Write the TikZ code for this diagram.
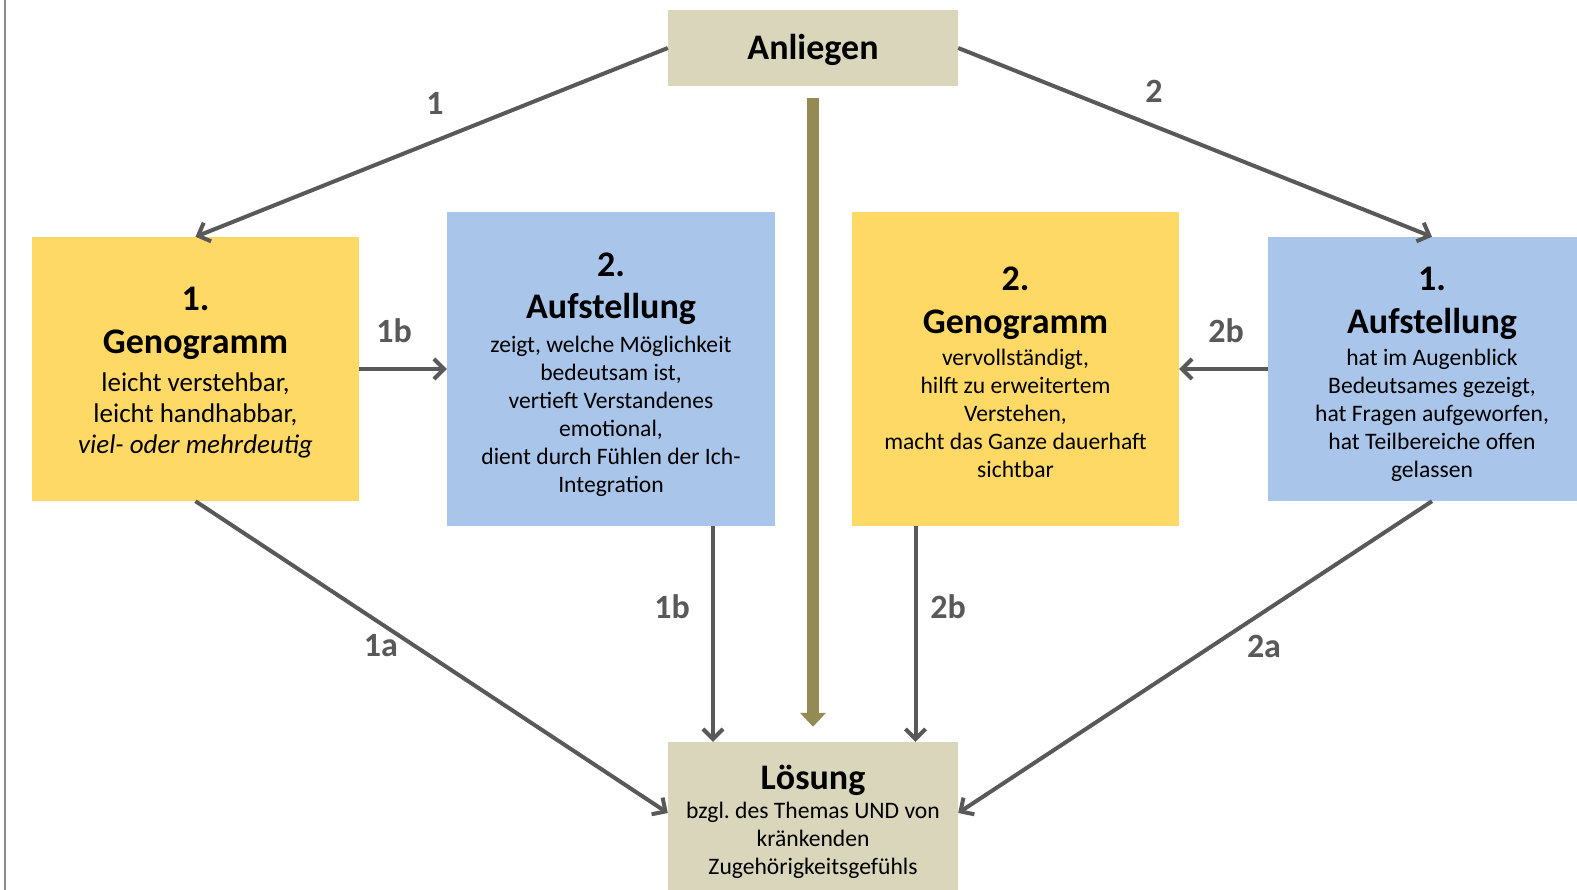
\documentclass[tikz,border=0pt]{standalone}
\usepackage{fontspec}
\setmainfont{Carlito}
\usetikzlibrary{arrows.meta}
\definecolor{boxyellow}{HTML}{FFD966}
\definecolor{boxblue}{HTML}{A9C6EA}
\definecolor{boxtan}{HTML}{DAD6BB}
\definecolor{olivearrow}{HTML}{948A54}
\definecolor{arrowgray}{HTML}{595959}
\definecolor{framegray}{HTML}{8C8C8C}
\newcommand{\ttlfont}{\fontsize{36}{42}\selectfont\bfseries}
\frenchspacing
\begin{document}
\begin{tikzpicture}[x=1pt,y=-1pt,
  box/.style={rectangle, inner sep=0pt},
  boxtext/.style={inner sep=0pt, align=center, text=black, font=\fontsize{23.6}{28}\selectfont},
  yellowbox/.style={box, fill=boxyellow},
  bluebox/.style={box, fill=boxblue},
  tanbox/.style={box, fill=boxtan},
  conn/.style={draw=arrowgray, line width=4pt, -{Straight Barb[length=10pt,width=20pt]}},
  bigarrow/.style={draw=olivearrow, line width=12pt, -{Triangle[length=14pt,width=25pt]}},
  lbl/.style={inner sep=0pt, text=arrowgray, font=\fontsize{34}{40}\selectfont\bfseries},
]
\useasboundingbox (0,0) rectangle (1577,890);
\clip (0,0) rectangle (1577,890);
\fill[white] (0,0) rectangle (1577,890);
\draw[framegray, line width=2pt] (5,0) -- (5,890);

% boxes
\node[tanbox, minimum width=290pt, minimum height=76pt] (anl) at (813,48) {};
\node[yellowbox, minimum width=327pt, minimum height=264pt] (g1) at (195.5,369) {};
\node[bluebox, minimum width=328pt, minimum height=314pt] (a2) at (611,369) {};
\node[yellowbox, minimum width=327pt, minimum height=314pt] (g2) at (1015.5,369) {};
\node[bluebox, minimum width=328pt, minimum height=264pt] (a1) at (1432,369) {};
\node[tanbox, minimum width=290pt, minimum height=160pt] (loe) at (813,822) {};

% box texts
\node[boxtext] (anlt) at ([yshift=-2pt]anl.center) {{\ttlfont Anliegen}};
\node[boxtext, font=\fontsize{27}{31}\selectfont] (g1t) at ([yshift=-4pt]g1.center)
  {{\ttlfont 1.}\\[12pt]{\ttlfont Genogramm}\\[7pt]leicht verstehbar,\\leicht handhabbar,\\\textit{viel- oder mehrdeutig}};
\node[boxtext] (a2t) at ([yshift=-5.5pt]a2.center)
  {{\ttlfont 2.}\\[14pt]{\ttlfont Aufstellung}\\[5.5pt]zeigt, welche Möglichkeit\\bedeutsam ist,\\vertieft Verstandenes\\emotional,\\dient durch Fühlen der Ich-\\Integration};
\node[boxtext] (g2t) at ([yshift=-3pt]g2.center)
  {{\ttlfont 2.}\\[15pt]{\ttlfont Genogramm}\\[4pt]vervollständigt,\\hilft zu erweitertem\\Verstehen,\\macht das Ganze dauerhaft\\sichtbar};
\node[boxtext] (a1t) at ([yshift=-5.5pt]a1.center)
  {{\ttlfont 1.}\\[15pt]{\ttlfont Aufstellung}\\[4.5pt]hat im Augenblick\\Bedeutsames gezeigt,\\hat Fragen aufgeworfen,\\hat Teilbereiche offen\\gelassen};
\node[boxtext] (loet) at ([yshift=0.5pt]loe.center)
  {{\ttlfont Lösung}\\[1pt]bzgl. des Themas UND von\\kränkenden\\Zugehörigkeitsgefühls};

% connectors
\draw[bigarrow, shorten <=12pt, shorten >=15pt] (anl.south) -- (loe.north);
\draw[conn] (anl.west) -- (g1.north);
\draw[conn] (anl.east) -- (a1.north);
\draw[conn] (g1.east) -- (a2.west);
\draw[conn] (a1.west) -- (g2.east);
\draw[conn] (g1.south) -- ([yshift=9pt]loe.west);
\draw[conn] (a1.south) -- ([yshift=9pt]loe.east);
\draw[conn] ([xshift=102pt]a2.south) -- ([xshift=102pt]a2.south |- loe.north);
\draw[conn] ([xshift=-100pt]g2.south) -- ([xshift=-100pt]g2.south |- loe.north);

% labels
\node[lbl] (l1) at (435,103) {1};
\node[lbl] (l2) at (1154,91) {2};
\node[lbl] (l1b) at (394,331) {1b};
\node[lbl] (l2b) at (1226,331) {2b};
\node[lbl] (l1a) at (381,646) {1a};
\node[lbl] (l2a) at (1264,646) {2a};
\node[lbl] (l1bd) at (672,607) {1b};
\node[lbl] (l2bd) at (948,607) {2b};
\end{tikzpicture}
\end{document}
